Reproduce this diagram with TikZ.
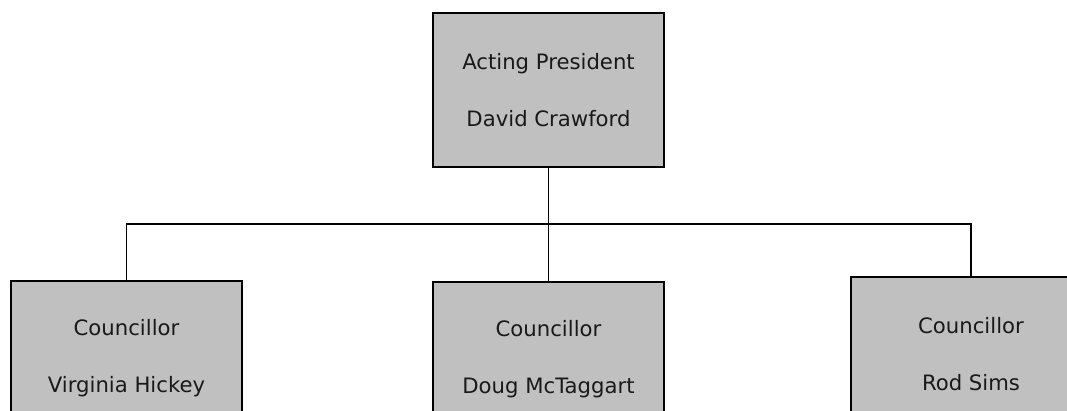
\documentclass[tikz,border=0pt]{standalone}
\usepackage{fontspec}
\setmainfont{DejaVu Sans}
\usepackage{xcolor}
\definecolor{boxgray}{RGB}{192,192,192}

\begin{document}
\begin{tikzpicture}[
  x=1pt, y=-1pt,
  box/.style={rectangle, draw, line width=1.5pt, fill=boxgray, minimum width=231pt, minimum height=154pt,
    align=center, font=\fontsize{21.2}{57}\selectfont, text=black!90, inner sep=0pt},
  link/.style={line width=1.4pt}
]
\useasboundingbox (0,0) rectangle (1067,410);
\clip (0,0) rectangle (1067,410);

\node[box] (pres) at (548.5,90) {Acting President\\David Crawford};

\node[box] (vh) at (126.5,358) {Councillor\\Virginia Hickey};
\node[box] (dm) at (548.5,359) {Councillor\\Doug McTaggart};
\node[box, minimum width=240pt] (rs) at (971,354) {Councillor\\Rod Sims};

\coordinate (bus) at (548.5,224);

\draw[link] (pres.south) -- (dm.north);
\draw[link] (vh.north) |- (bus) -| (rs.north);

\end{tikzpicture}
\end{document}
